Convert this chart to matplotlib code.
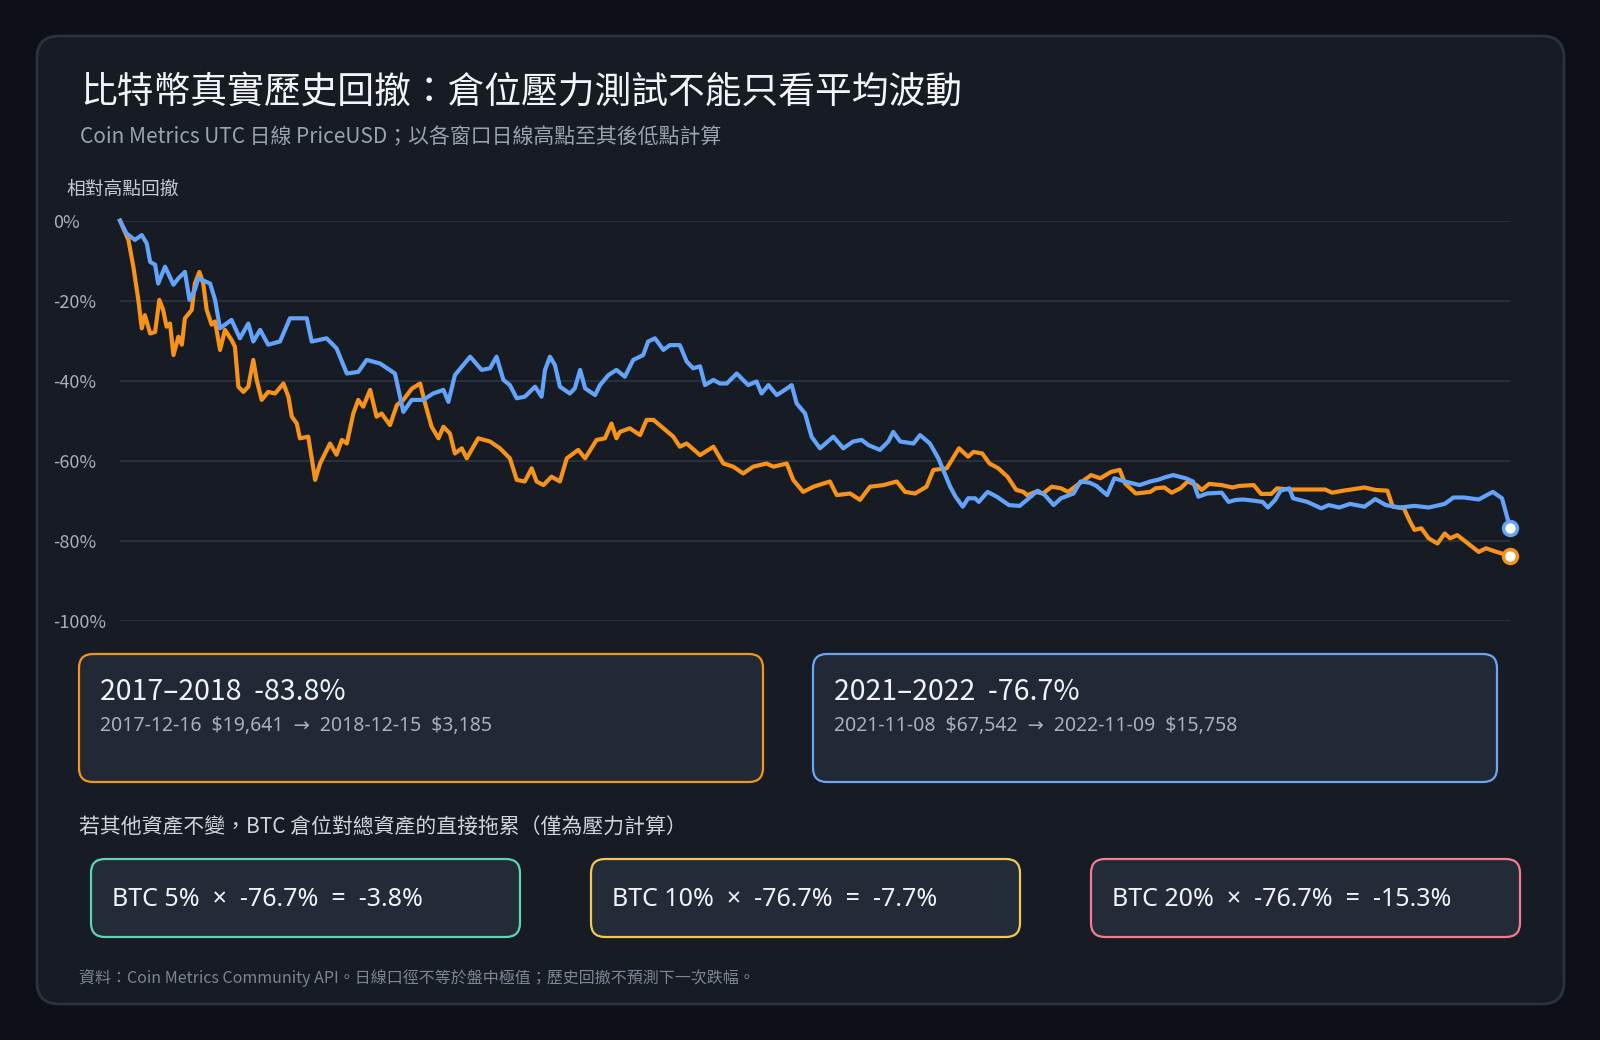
import numpy as np
import matplotlib
matplotlib.use("Agg")
import matplotlib.pyplot as plt
from matplotlib.patches import FancyBboxPatch

plt.rcParams['font.family'] = ['Noto Sans CJK TC', 'DejaVu Sans']
LATIN = ['Noto Sans', 'DejaVu Sans']

# Drawdown from window high, in %, x = days since the high
days_1718 = [0, 2.2, 3.5, 4.8, 5.7, 6.5, 7.9, 9.2, 10.3, 11.3, 12.2, 13.1, 14, 15.3, 16.2, 17, 18.8, 19.6, 20.8, 21.8,
             22.7, 24, 24.9, 26.2, 27.5, 29.2, 30.1, 31, 32.3, 33.6, 34.9, 35.8, 37.1, 38.8, 40.6, 42.8, 44.1, 45, 46.3, 47.1,
             49.3, 51.1, 52.4, 55, 56.7, 58.1, 59.4, 61.1, 62.4, 63.7, 65.5, 67.2, 68.5, 70.7, 72.5, 74.2, 76.4, 78.6, 79.9, 81.6,
             83.4, 84.7, 86.4, 87.7, 89.5, 90.8, 93.8, 96.9,
             99.5, 102.1, 103.9, 106, 107.8, 109.1, 110.9, 113, 115.2, 117, 120, 121.8, 124.8, 127, 128.7, 130, 130.9, 133.5, 136.2, 137.9,
             139.7, 142.3, 144.9, 146.6, 148.4, 151.9, 155.4, 158, 160.6, 163.2, 165.8, 169.3, 171.1, 174.6, 176.3, 178.9, 181.6, 185.9, 187.7, 191.2,
             193.8, 196.4, 199.9, 203.4, 205.6, 208.2, 211.2, 213, 216.5,
             219.7, 222.1, 223.5, 225.8, 227.7, 230, 232.4, 234.7, 236.6, 237.5, 239.8, 241.7, 244, 246.4, 248.3, 250.1, 252, 254.3, 256.7, 259.5,
             261.8, 263.2, 266, 269.8, 271.2, 273.5, 275.4, 277.7, 279.6, 281.9, 283.3, 285.2, 288.5, 291.3, 293.1, 296.9, 298.8, 301.5, 303, 306.2,
             310.9, 315.6, 317.4, 320.3, 325.9, 328.7, 331.9, 333.3, 336.2, 337.6, 339, 340.8, 342.7, 345, 346.9, 348.3, 350.2, 353, 355.8, 357.7,
             360.5, 364]
dd_1718 = [0, -4.8, -11.5, -19.8, -26.9, -23.6, -28.2, -27.8, -19.8, -22.3, -26.5, -25.7, -33.6, -29, -31, -24.4, -22.3, -15.7, -12.8, -15.7,
           -22.3, -26, -25.2, -32.3, -27.3, -29.8, -31.5, -41.5, -42.8, -41.5, -34.8, -39.8, -44.8, -42.8, -43.2, -40.7, -44, -49, -50.7, -54.4,
           -54, -64.8, -60.7, -55.7, -58.5, -54.8, -55.7, -48.2, -44.8, -46.5, -42.3, -49, -48.2, -51.1, -46.1, -44.8, -42, -40.7, -45.7, -51.5,
           -54.4, -51.5, -53.2, -58.2, -56.9, -59.4, -54.4, -55.2,
           -56.9, -59.4, -64.8, -65.2, -61.9, -65.2, -66.1, -64, -65.2, -59.4, -57.3, -59.4, -54.8, -54.4, -50.7, -54.4, -52.8, -51.9, -53.6, -49.8,
           -49.8, -51.9, -54, -56.5, -55.7, -58.6, -56.5, -60.7, -61.5, -63.2, -61.5, -60.7, -61.5, -60.7, -64.8, -67.8, -66.5, -65.2, -68.6, -68.2,
           -69.8, -66.5, -66.1, -65.2, -67.8, -68.2, -66.5, -62.3, -61.9,
           -56.9, -59, -57.8, -58.2, -60.7, -61.9, -64, -67.3, -67.8, -68.6, -67.8, -68.2, -66.5, -66.9, -67.8, -66.5, -65.2, -63.6, -64.4, -62.8,
           -62.3, -65.7, -68.2, -67.8, -66.9, -66.7, -68, -66.9, -65.2, -66.1, -67.3, -65.8, -66.1, -66.7, -66.3, -66.1, -68.3, -68.3, -66.9, -67.2,
           -67.2, -67.2, -68, -67.5, -66.7, -67.3, -67.5, -71.5, -71.9, -74.8, -77.3, -76.9, -79.4, -80.7, -78.2, -79.4, -78.6, -80.7, -82.8, -81.9,
           -82.8, -83.8]

days_2122 = [0, 1.7, 3.9, 5.7, 7, 7.9, 9.2, 10, 11.8, 14, 15.3, 17, 18.2, 19.6, 20.5, 23.6, 24.9, 26.2, 29.2, 31.4,
             33.6, 34.9, 36.7, 38.8, 41.9, 44.5, 48.9, 50.2, 54.1, 56.7, 59.4, 62.4, 64.6, 68.1, 72, 74.2, 76.4, 79.4, 82, 84.7,
             86, 87.7, 91.7, 94.7, 96.9, 98.6,
             100.4, 102.1, 103.9, 106, 108.7, 110.4, 111.3, 112.6, 113.9, 115.2, 117.8, 119.1, 120.5, 121.8, 124.4, 125.7, 127.9, 130, 132.2, 134.4,
             137, 138.3, 140.1, 142.3, 144, 146.6, 148.4, 150.1, 151.9, 153.2, 155.4, 157.1, 158.9, 161.5, 164.5, 166.7, 168, 169.8, 172, 174.1,
             175.9, 177.2, 179.4, 181.1, 183.3, 186.8, 189.4, 192, 194.2, 196, 199, 201.2, 202.5, 204.3, 207.8, 209.5, 212.1, 214.3,
             217.4, 218.8, 220.7, 222.1, 223.9, 224.9, 227.2, 229.6, 232.8, 235.6, 237.5, 240.3, 242.2, 244.5, 246.4, 249.7, 251.5, 253.9, 255.7, 258.5,
             260.4, 263.2, 267, 269.8, 272.1, 273.5, 275.8, 279.1, 281, 282.4, 284.7, 288.5, 290.3, 292.2, 294.1, 296.9, 299.2, 300.6, 302.5, 303.9,
             306.2, 307.2, 310.9, 314.6, 316.5, 319.3, 322.1, 325.9, 328.7, 331.5, 335.2, 339, 342.7, 346.9, 349.2, 352, 355.8, 359.5, 361.9, 364]
dd_2122 = [0, -3.2, -4.8, -3.6, -5.7, -10.3, -11, -15.7, -11.5, -16, -14.4, -12.8, -19.8, -17.3, -14.4, -15.7, -19.8, -26.9, -24.8, -29.4,
           -25.7, -30.2, -27.3, -31, -30.2, -24.4, -24.4, -30.2, -29.4, -31.9, -38.2, -37.8, -34.8, -35.7, -38.2, -47.8, -44.8, -44.8, -43.2, -42.3,
           -45.3, -38.6, -34, -37.3, -36.9, -34,
           -39.8, -41.1, -44.4, -44, -41.5, -44, -37.3, -34, -36.1, -41.5, -43.2, -41.9, -37.3, -41.9, -43.6, -41.1, -38.6, -37.3, -39, -34.8,
           -33.6, -30.2, -29.4, -32.3, -31.1, -31.1, -35.2, -36.9, -36.4, -41.1, -39.8, -40.7, -40.7, -38.2, -41.1, -40.2, -43.2, -41.1, -43.6, -42.3,
           -41.1, -45.7, -48.2, -54, -56.9, -54, -56.9, -55.2, -54.8, -56.1, -57.3, -55.2, -52.8, -55.2, -55.7, -53.6, -55.7, -59.4,
           -66.5, -69, -71.5, -69.4, -69.4, -70.3, -67.8, -69, -71.1, -71.3, -69.8, -67.5, -68.6, -71.1, -69.4, -68.2, -65.2, -65.5, -66.3, -68.6,
           -64.4, -65.2, -66.1, -65.2, -64.7, -64.2, -63.6, -64.4, -65.2, -69, -68.2, -68, -70.3, -69.8, -69.7, -70, -70.3, -71.7, -69.8, -67.5,
           -66.9, -69.4, -70.3, -71.9, -71.1, -71.7, -70.8, -71.5, -69.6, -71.1, -71.7, -71.3, -71.7, -70.8, -69.2, -69.2, -69.7, -67.8, -69.4, -76.7]

y_ticks = [0, -20, -40, -60, -80, -100]
y_labels = ["0%", "-20%", "-40%", "-60%", "-80%", "-100%"]

cycles = ["2017–2018", "2021–2022"]
cycle_dd = [-83.8, -76.7]
cycle_detail = [r"2017-12-16  \$19,641  →  2018-12-15  \$3,185",
                r"2021-11-08  \$67,542  →  2022-11-09  \$15,758"]

weights = [5, 10, 20]
stress_dd = -76.7
weight_result = ["-3.8%", "-7.7%", "-15.3%"]

ORANGE = "#f7931a"
BLUE = "#63a4fa"
box_colors = ["#5fd3b2", "#f3c65a", "#f27d8e"]

fig = plt.figure(figsize=(16, 10.4), dpi=100, facecolor="#0d1016")

# background layer in pixel coordinates
bg = fig.add_axes([0, 0, 1, 1], zorder=0)
bg.set_xlim(0, 1600)
bg.set_ylim(1040, 0)
bg.axis("off")

bg.add_patch(FancyBboxPatch((37, 36), 1527, 968, boxstyle="round,pad=0,rounding_size=22",
                            fc="#161b24", ec="#2b3340", lw=2))

bg.text(80, 92, "比特幣真實歷史回撤：倉位壓力測試不能只看平均波動", fontsize=26.5,
        color="#f2f4f7", va="center", ha="left")
bg.text(80, 137, "Coin Metrics UTC 日線 PriceUSD；以各窗口日線高點至其後低點計算", fontsize=15,
        color="#9aa3af", va="center", ha="left")
bg.text(66, 189, "相對高點回撤", fontsize=13.5, color="#c4cad3", va="center", ha="left")

# drawdown cards
card_x = [79, 813]
card_ec = [ORANGE, "#6aa6f8"]
for i in range(2):
    bg.add_patch(FancyBboxPatch((card_x[i], 654), 684, 128, boxstyle="round,pad=0,rounding_size=14",
                                fc="#212936", ec=card_ec[i], lw=1.6))
    bg.text(card_x[i] + 21, 692, f"{cycles[i]}  {cycle_dd[i]:.1f}%", fontsize=20.5,
            color="#f2f4f7", va="center", ha="left")
    bg.text(card_x[i] + 21, 726, cycle_detail[i], fontsize=14, family=LATIN,
            color="#a9b1bc", va="center", ha="left")

bg.text(79, 828, "若其他資產不變，BTC 倉位對總資產的直接拖累（僅為壓力計算）", fontsize=15,
        color="#d0d5dc", va="center", ha="left")

# position stress boxes
box_x = [91, 591, 1091]
for i in range(3):
    bg.add_patch(FancyBboxPatch((box_x[i], 859), 429, 78, boxstyle="round,pad=0,rounding_size=14",
                                fc="#222b37", ec=box_colors[i], lw=1.6))
    bg.text(box_x[i] + 21, 899, f"BTC {weights[i]}%  ×  {stress_dd:.1f}%  =  {weight_result[i]}",
            fontsize=18, family=LATIN, color="#f2f4f7", va="center", ha="left")

bg.text(79, 978, "資料：Coin Metrics Community API。日線口徑不等於盤中極值；歷史回撤不預測下一次跌幅。",
        fontsize=11.5, color="#7d8694", va="center", ha="left")

# main chart
ax = fig.add_axes([120 / 1600, (1040 - 620.7) / 1040, 1390 / 1600, 400 / 1040], zorder=1)
ax.set_facecolor("none")
ax.set_xlim(0, 364)
ax.set_ylim(-100, 0)
for s in ax.spines.values():
    s.set_visible(False)
ax.set_xticks([])
ax.set_yticks(y_ticks)
ax.set_yticklabels(y_labels, ha="left", fontsize=13, color="#a7afba")
ax.tick_params(axis="y", length=0, pad=48)
for y in y_ticks:
    ax.axhline(y, color="#2a3240", lw=1.3, zorder=1)

ax.plot(days_1718, dd_1718, color=ORANGE, lw=3, solid_joinstyle="round", clip_on=False, zorder=3)
ax.plot(days_2122, dd_2122, color=BLUE, lw=3, solid_joinstyle="round", clip_on=False, zorder=4)
ax.plot(days_1718[-1], dd_1718[-1], "o", ms=10, mfc="white", mec=ORANGE, mew=2.5, clip_on=False, zorder=5)
ax.plot(days_2122[-1], dd_2122[-1], "o", ms=10, mfc="white", mec=BLUE, mew=2.5, clip_on=False, zorder=5)

fig.savefig("out.png", dpi=100, facecolor=fig.get_facecolor())
